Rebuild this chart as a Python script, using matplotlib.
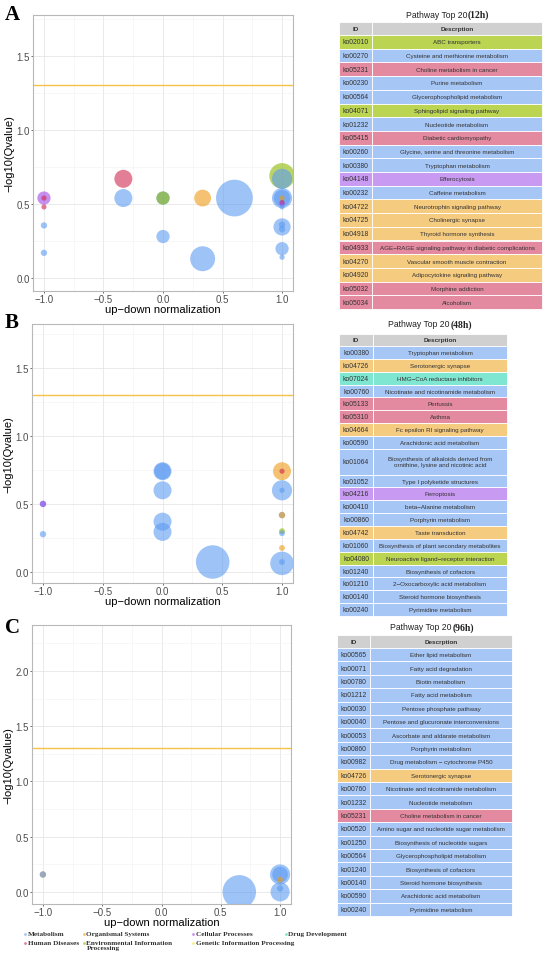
# plot.py  -- KEGG pathway bubble plots with Top 20 tables (12h / 48h / 96h)

import numpy as np
import matplotlib
matplotlib.use("Agg")
import matplotlib.pyplot as plt
from matplotlib.patches import Rectangle
from matplotlib.ticker import MultipleLocator

plt.rcParams['font.family'] = ['Liberation Sans', 'DejaVu Sans']

# ---------------- data ----------------
# category codes: Met, Org, Cell, Drug, HD, Env, Gen
a_x   = [-1.0, -1.0, -1.0, -1.0, -1.0, -0.333, -0.333, 0.0, 0.0, 0.0, 0.333, 0.333, 0.6,
         1.0, 1.0, 1.0, 1.0, 1.0, 1.0, 1.0, 1.0, 1.0, 1.0, 1.0, 1.0, 1.0]
a_y   = [0.54, 0.54, 0.48, 0.355, 0.17, 0.67, 0.54, 0.54, 0.54, 0.28, 0.54, 0.13, 0.54,
         0.69, 0.67, 0.54, 0.54, 0.54, 0.51, 0.50, 0.48, 0.345, 0.36, 0.33, 0.198, 0.14]
a_n   = [13, 2, 2, 3, 3, 24, 24, 13, 13, 13, 21, 46, 100,
         48, 30, 30, 20, 2, 2, 2, 2, 22, 3, 3, 13, 2]
a_cat = ["Cell", "HD", "HD", "Met", "Met", "HD", "Met", "Met", "Env", "Met", "Org", "Met", "Met",
         "Env", "Met", "Met", "Met", "Org", "HD", "Cell", "Met", "Met", "Met", "Met", "Met", "Met"]

b_x   = [-1.0, -1.0, -1.0, 0.0, 0.0, 0.0, 0.0, 0.0, 0.42,
         1.0, 1.0, 1.0, 1.0, 1.0, 1.0, 1.0, 1.0, 1.0, 1.0, 1.0]
b_y   = [0.50, 0.50, 0.278, 0.74, 0.74, 0.60, 0.37, 0.295, 0.074,
         0.74, 0.74, 0.60, 0.60, 0.418, 0.418, 0.30, 0.285, 0.177, 0.064, 0.074]
b_n   = [3, 3, 3, 24, 20, 24, 24, 24, 83,
         24, 2, 30, 2, 3, 3, 2.5, 2.5, 2.5, 41, 2.5]
b_cat = ["Met", "Cell", "Met", "Met", "Met", "Met", "Met", "Met", "Met",
         "Org", "HD", "Met", "Met", "Met", "Org", "Env", "Met", "Org", "Met", "Met"]

c_x   = [-1.0, -1.0, 0.656, 1.0, 1.0, 1.0, 1.0, 1.0]
c_y   = [0.157, 0.157, 0.0, 0.157, 0.157, 0.0, 0.11, 0.03]
c_n   = [3, 3, 83, 30, 18, 27, 2.5, 3]
c_cat = ["Org", "Met", "Met", "Met", "Met", "Met", "Org", "Met"]

a_ids = ["ko02010", "ko00270", "ko05231", "ko00230", "ko00564", "ko04071", "ko01232",
         "ko05415", "ko00260", "ko00380", "ko04148", "ko00232", "ko04722", "ko04725",
         "ko04918", "ko04933", "ko04270", "ko04920", "ko05032", "ko05034"]
a_desc = ["ABC transporters", "Cysteine and methionine metabolism", "Choline metabolism in cancer",
          "Purine metabolism", "Glycerophospholipid metabolism", "Sphingolipid signaling pathway",
          "Nucleotide metabolism", "Diabetic cardiomyopathy", "Glycine, serine and threonine metabolism",
          "Tryptophan metabolism", "Efferocytosis", "Caffeine metabolism",
          "Neurotrophin signaling pathway", "Cholinergic synapse", "Thyroid hormone synthesis",
          "AGE\u2212RAGE signaling pathway in diabetic complications",
          "Vascular smooth muscle contraction", "Adipocytokine signaling pathway",
          "Morphine addiction", "Alcoholism"]
a_tcat = ["Env", "Met", "HD", "Met", "Met", "Env", "Met", "HD", "Met", "Met", "Cell", "Met",
          "Org", "Org", "Org", "HD", "Org", "Org", "HD", "HD"]

b_ids = ["ko00380", "ko04726", "ko07024", "ko00760", "ko05133", "ko05310", "ko04664",
         "ko00590", "ko01064", "ko01052", "ko04216", "ko00410", "ko00860", "ko04742",
         "ko01060", "ko04080", "ko01240", "ko01210", "ko00140", "ko00240"]
b_desc = ["Tryptophan metabolism", "Serotonergic synapse", "HMG\u2212CoA reductase inhibitors",
          "Nicotinate and nicotinamide metabolism", "Pertussis", "Asthma",
          "Fc epsilon RI signaling pathway", "Arachidonic acid metabolism",
          "Biosynthesis of alkaloids derived from\nornithine, lysine and nicotinic acid",
          "Type I polyketide structures", "Ferroptosis", "beta\u2212Alanine metabolism",
          "Porphyrin metabolism", "Taste transduction", "Biosynthesis of plant secondary metabolites",
          "Neuroactive ligand\u2212receptor interaction", "Biosynthesis of cofactors",
          "2\u2212Oxocarboxylic acid metabolism", "Steroid hormone biosynthesis", "Pyrimidine metabolism"]
b_tcat = ["Met", "Org", "Drug", "Met", "HD", "HD", "Org", "Met", "Met", "Met", "Cell", "Met",
          "Met", "Org", "Met", "Env", "Met", "Met", "Met", "Met"]

c_ids = ["ko00565", "ko00071", "ko00780", "ko01212", "ko00030", "ko00040", "ko00053",
         "ko00860", "ko00982", "ko04726", "ko00760", "ko01232", "ko05231", "ko00520",
         "ko01250", "ko00564", "ko01240", "ko00140", "ko00590", "ko00240"]
c_desc = ["Ether lipid metabolism", "Fatty acid degradation", "Biotin metabolism",
          "Fatty acid metabolism", "Pentose phosphate pathway", "Pentose and glucuronate interconversions",
          "Ascorbate and aldarate metabolism", "Porphyrin metabolism", "Drug metabolism \u2212 cytochrome P450",
          "Serotonergic synapse", "Nicotinate and nicotinamide metabolism", "Nucleotide metabolism",
          "Choline metabolism in cancer", "Amino sugar and nucleotide sugar metabolism",
          "Biosynthesis of nucleotide sugars", "Glycerophospholipid metabolism",
          "Biosynthesis of cofactors", "Steroid hormone biosynthesis", "Arachidonic acid metabolism",
          "Pyrimidine metabolism"]
c_tcat = ["Met"] * 9 + ["Org", "Met", "Met", "HD"] + ["Met"] * 7

legend_cats = ["Met", "Org", "Cell", "Drug", "HD", "Env", "Gen"]
legend_names = ["Metabolism", "Organismal Systems", "Cellular Processes", "Drug Development",
                "Human Diseases", "Environmental Information\nProcessing", "Genetic Information Processing"]

# ---------------- styles ----------------
point_colors = {"Met": "#5C9BF2", "Org": "#EE9A14", "Cell": "#A346E6", "Drug": "#2BD1A8",
                "HD": "#D0284F", "Env": "#8CB800", "Gen": "#F0E030"}
table_colors = {"Met": "#A6C6F5", "Org": "#F5CB80", "Cell": "#C99AF2", "Drug": "#7FE6D2",
                "HD": "#E48AA0", "Env": "#BBD452", "Gen": "#F3EE8A"}

W, H = 550, 962
fig = plt.figure(figsize=(W / 100, H / 100), dpi=100)


def bubble_panel(rect, xs, ys, ns, cats, ylim, ymax_tick):
    ax = fig.add_axes(rect)
    ax.scatter(xs, ys, s=[n * 7 for n in ns], c=[point_colors[c] for c in cats],
               alpha=0.6, linewidths=0, zorder=3)
    ax.axhline(-np.log10(0.05), color="#F5C243", lw=1.0, zorder=2)
    ax.set_xlim(-1.092, 1.092)
    ax.set_ylim(ylim)
    ax.set_xticks([-1.0, -0.5, 0.0, 0.5, 1.0])
    ax.set_yticks(np.arange(0, ymax_tick + 0.01, 0.5))
    ax.xaxis.set_major_formatter(plt.FuncFormatter(lambda v, p: f"{v:.1f}".replace("-", "\u2212")))
    ax.yaxis.set_major_formatter(plt.FuncFormatter(lambda v, p: f"{v:.1f}"))
    ax.xaxis.set_minor_locator(MultipleLocator(0.25))
    ax.yaxis.set_minor_locator(MultipleLocator(0.25))
    ax.grid(which="major", color="#E6E6E6", lw=0.6)
    ax.grid(which="minor", color="#F2F2F2", lw=0.4)
    ax.set_axisbelow(True)
    for sp in ax.spines.values():
        sp.set_color("#B8B8B8")
        sp.set_linewidth(0.8)
    ax.tick_params(which="major", length=1.5, width=0.6, color="#555555",
                   labelsize=7, labelcolor="#4D4D4D", pad=1)
    ax.tick_params(which="minor", length=0)
    ax.set_xlabel("up\u2212down normalization", fontsize=8, labelpad=0)
    ax.set_ylabel("\u2212log10(Qvalue)", fontsize=8, labelpad=1.5)
    return ax


bubble_panel([33 / W, 1 - 292 / H, 260 / W, 276 / H], a_x, a_y, a_n, a_cat, (-0.088, 1.777), 1.5)
bubble_panel([32 / W, 1 - 584 / H, 261 / W, 259 / H], b_x, b_y, b_n, b_cat, (-0.08, 1.82), 1.5)
bubble_panel([32 / W, 1 - 905 / H, 259 / W, 279 / H], c_x, c_y, c_n, c_cat, (-0.11, 2.416), 2.0)

# overlay in pixel coordinates for tables, letters and legend
ov = fig.add_axes([0, 0, 1, 1])
ov.set_xlim(0, W)
ov.set_ylim(H, 0)
ov.axis("off")


def draw_table(left, mid, right, top, head_h, row_h, ids, descs, cats, title_x, title_y, tag):
    ov.text(title_x, title_y, "Pathway Top 20", ha="right", va="center", fontsize=6.2, color="#222222")
    ov.text(title_x + 1, title_y, tag, ha="left", va="center", fontsize=7,
            family="Liberation Serif", weight="bold", color="#222222")
    ov.add_patch(Rectangle((left, top), mid - left, head_h, fc="#D0D0D0", ec="white", lw=0.6))
    ov.add_patch(Rectangle((mid, top), right - mid, head_h, fc="#D0D0D0", ec="white", lw=0.6))
    ov.text((left + mid) / 2, top + head_h / 2, "ID", ha="center", va="center",
            fontsize=4.6, weight="bold", color="#333333")
    ov.text((mid + right) / 2, top + head_h / 2, "Descrption", ha="center", va="center",
            fontsize=4.6, weight="bold", color="#333333")
    y = top + head_h
    for i, d, c in zip(ids, descs, cats):
        h = row_h * (2 if "\n" in d else 1)
        col = table_colors[c]
        ov.add_patch(Rectangle((left, y), mid - left, h, fc=col, ec="white", lw=0.6))
        ov.add_patch(Rectangle((mid, y), right - mid, h, fc=col, ec="white", lw=0.6))
        ov.text((left + mid) / 2, y + h / 2, i, ha="center", va="center", fontsize=4.9, color="#333333")
        ov.text((mid + right) / 2, y + h / 2, d, ha="center", va="center", fontsize=4.5,
                color="#333333", linespacing=1.3)
        y += h


draw_table(339, 372, 542, 23, 13, 13.7, a_ids, a_desc, a_tcat, 467, 15, "(12h)")
draw_table(339, 373, 507, 335, 12, 12.86, b_ids, b_desc, b_tcat, 450, 325, "(48h)")
draw_table(337, 370, 512, 636, 13, 13.4, c_ids, c_desc, c_tcat, 452, 628, "(96h)")

# panel letters
for letter, ly in zip(["A", "B", "C"], [15, 323, 628]):
    ov.text(12, ly, letter, ha="center", va="center", fontsize=15,
            family="Liberation Serif", weight="bold", color="black")

# legend
leg_pos = [(25, 935), (84, 935), (193, 935), (286, 935), (25, 944), (84, 944), (193, 944)]
for (lx, ly), c, name in zip(leg_pos, legend_cats, legend_names):
    ov.plot(lx, ly, "o", ms=2, color=point_colors[c], alpha=0.6, mec="none")
    if "\n" in name:
        ov.text(lx + 2.5, ly - 3.3, name, ha="left", va="top", fontsize=5.2,
                family="Liberation Serif", weight="bold", color="#333333", linespacing=1.0)
    else:
        ov.text(lx + 2.5, ly, name, ha="left", va="center", fontsize=5.2,
                family="Liberation Serif", weight="bold", color="#333333")

fig.savefig("out.png", dpi=100)
